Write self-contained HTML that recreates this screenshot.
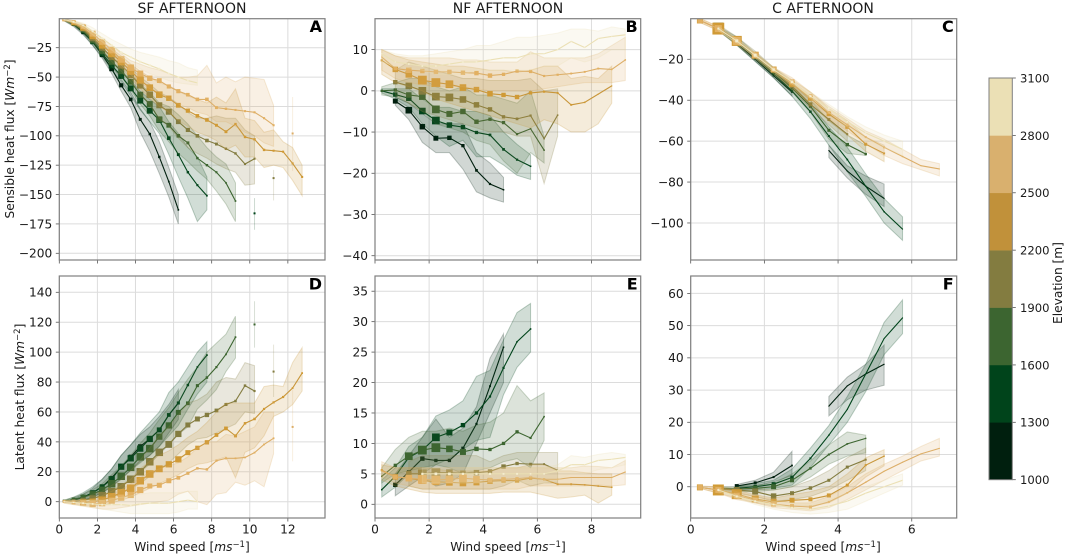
<!DOCTYPE html>
<html lang="en">
<head>
<meta charset="utf-8">
<title>Surface heat fluxes vs wind speed</title>
<style>
html,body{margin:0;padding:0;background:#fff;}
svg{display:block;font-family:"DejaVu Sans","Liberation Sans",sans-serif;fill:#1a1a1a;}
</style>
</head>
<body>
<svg id="chart" width="1065" height="555" viewBox="0 0 1065 555" xmlns="http://www.w3.org/2000/svg">
<text x="192" y="13" font-size="14" text-anchor="middle">SF AFTERNOON</text>
<text x="508" y="13" font-size="14" text-anchor="middle">NF AFTERNOON</text>
<text x="823" y="13" font-size="14" text-anchor="middle">C AFTERNOON</text>
<text transform="translate(14 139) rotate(-90)" font-size="12.2" text-anchor="middle">Sensible heat flux [<tspan font-style="italic">Wm</tspan><tspan dy="-4" font-size="8.5">−2</tspan><tspan dy="4">]</tspan></text>
<text transform="translate(24 397) rotate(-90)" font-size="12.2" text-anchor="middle">Latent heat flux [<tspan font-style="italic">Wm</tspan><tspan dy="-4" font-size="8.5">−2</tspan><tspan dy="4">]</tspan></text>
<text x="192" y="551" font-size="12.2" text-anchor="middle">Wind speed [<tspan font-style="italic">ms</tspan><tspan dy="-4" font-size="8.5">−1</tspan><tspan dy="4">]</tspan></text>
<text x="508" y="551" font-size="12.2" text-anchor="middle">Wind speed [<tspan font-style="italic">ms</tspan><tspan dy="-4" font-size="8.5">−1</tspan><tspan dy="4">]</tspan></text>
<text x="823" y="551" font-size="12.2" text-anchor="middle">Wind speed [<tspan font-style="italic">ms</tspan><tspan dy="-4" font-size="8.5">−1</tspan><tspan dy="4">]</tspan></text>
<text transform="translate(1062 283) rotate(-90)" font-size="12.2" text-anchor="middle">Elevation [m]</text>
</svg>
<script>
const _ = null;
const windBins = [0.25,0.75,1.25,1.75,2.25,2.75,3.25,3.75,4.25,4.75,5.25,5.75,6.25,6.75,7.25,7.75,8.25,8.75,9.25,9.75,10.25,10.75,11.25,11.75,12.25,12.75];
const elevationTicks = [1000,1300,1600,1900,2200,2500,2800,3100];

/* Panel A: SF sensible */
const aMean0=[-1,-5,-12,-20,-31,-43,-57,-69,-86,-98.5,-118,-139,-163];
const aLow0=[-2,-7,-14,-23,-34,-47,-62,-76,-97,-113,-132,-152,-175];
const aHigh0=[-0.5,-3,-10,-17,-28,-39,-52,-63,-77,-88,-105,-127,-150];
const aCount0=[1,9,9,12,16,16,12,9,6,4,4,2,2];
const aMean1=[-1,-5,-11,-20,-30,-40,-49,-59.6,-70,-78.6,-86.5,-102,-116,-131,-142,-151];
const aLow1=[-2,-6,-13,-23,-33,-44,-54,-66,-78,-88,-98,-116,-135,-153,-173,-163];
const aHigh1=[-0.5,-4,-9,-17,-27,-36,-44,-53,-62,-69,-75,-88,-98,-110,-118,-135];
const aCount1=[4,9,12,16,20,25,25,25,25,25,25,9,6,4,3,2];
const aMean2=[-1,-4.5,-10,-19,-28,-37,-45,-54,-65,-73,-86,-91,-100,-106,-119,-125,-131,-140,-155.5];
const aLow2=[-2,-6,-12,-21,-31,-41,-50,-61,-73,-83,-96,-105,-115,-122,-130,-137,-147,-158,-173];
const aHigh2=[-0.5,-3,-8,-16,-25,-33,-40,-47,-56,-63,-72,-75,-82,-90,-100,-110,-118,-124,-140];
const aCount2=[4,9,16,20,25,25,25,25,25,25,25,16,9,6,4,4,3,2,2];
const aMean3=[-1,-4,-9,-17,-25,-33,-40,-48,-57,-65,-74,-79.5,-88,-95,-100,-104,-107,-111,-115,-124,-119.5];
const aLow3=[-2,-5,-11,-19,-28,-37,-45,-54,-64,-74,-85,-92,-102,-110,-115,-119,-124,-128,-131,-142,-141];
const aHigh3=[-0.5,-3,-7,-15,-22,-29,-35,-42,-50,-56,-63,-67,-73,-80,-85,-85,-83,-85,-85,-95,-100];
const aCount3=[4,9,16,25,25,25,30,30,30,30,25,25,16,12,9,9,6,4,4,3,3];
const aMean4=[-1,-4,-8,-15,-23,-30,-37,-45,-52.5,-59,-65,-68,-74,-78.6,-83,-86.5,-91,-96.5,-90,-101,-103,-112,-112.7,-113.5,-123.5,-135];
const aLow4=[-2,-5,-10,-17,-26,-34,-42,-51,-60,-68,-75,-80,-87,-92,-97,-100,-104,-112,-108,-118,-118,-127,-125,-127,-138,-151];
const aHigh4=[0,-3,-6,-13,-20,-26,-32,-39,-45,-50,-55,-57,-62,-66,-69,-72,-67,-72,-60,-85,-87,-97,-95,-105,-110,-125];
const aCount4=[9,16,25,30,30,36,36,36,36,30,30,20,16,12,9,9,6,6,4,4,4,4,3,3,3,3];
const aMean5=[-1,-3,-7,-13,-20,-27,-35,-42,-47,-51,-53,-58,-62,-65,-69,-69,-76,-77,-78,-79,-80,-85,-91];
const aLow5=[-2,-4,-9,-15,-23,-31,-40,-48,-55,-60,-63,-69,-73,-76,-80,-82,-88,-88,-92,-97,-100,-106,-109];
const aHigh5=[0,-2,-5,-11,-17,-23,-30,-36,-39,-42,-44,-47,-50,-50,-49,-40,-55,-50,-54,-50,-51,-52,-74];
const aCount5=[6,9,16,25,25,30,30,30,25,20,16,12,12,9,9,9,6,4,3,3,3,3,3];
const aMean6=[-1,-3,-6,-11,-17,-23,-29,-33,-37,-40,-43,-47,-50,-53,-55];
const aLow6=[-2,-4,-8,-14,-20,-27,-33,-38,-43,-47,-50,-53,-55,-56,-57];
const aHigh6=[0,-2,-4,-8,-13,-18,-22,-26,-29,-31,-33,-36,-38,-42,-44];
const aCount6=[1,2,2,3,3,3,3,3,3,3,3,2,2,2,1];
const aOutlierX=[10.25,11.25,12.25];
const aOutlierY=[-166,-136,-98];
const aOutlierLow=[-180,-155,-130];
const aOutlierHigh=[-153,-129,-67];
const aOutlierSeries=[1,3,5];
const aYTicks=[-25,-50,-75,-100,-125,-150,-175,-200];
const aXTicks=[0,2,4,6,8,10,12];

/* Panel B: NF sensible */
const bMean0=[_,-2.5,-4.7,-8.7,-11.5,-11.4,-13.3,-19.3,-22.6,-24];
const bLow0=[_,-3.5,-7,-12.5,-15,-15,-19,-24.5,-26,-27];
const bHigh0=[_,-1.5,-3,-5.5,-8,-8,-8,-15,-17.5,-21];
const bCount0=[_,20,36,25,20,16,9,6,4,2];
const bMean1=[0,-0.9,-1.8,-4.9,-7.2,-8.3,-8.8,-10.1,-10.7,-14.2,-16.7,-18.3];
const bLow1=[-0.5,-2,-4,-8,-11,-13.5,-12,-16,-16,-18,-20.5,-21.5];
const bHigh1=[0.5,0.5,0.5,-2,-4,-4,-5,-5,-6,-10,-13,-15.5];
const bCount1=[4,16,25,36,49,25,16,9,6,6,4,2];
const bMean2=[0,0.2,-1,-1.4,-4.5,-5.6,-5,-7.5,-6.9,-7.7,-10.5,-9.2,-14.4];
const bLow2=[-1,-1.5,-3,-5,-8,-9,-10,-12,-13,-17,-20,-15,-17.5];
const bHigh2=[1,2,3,3,1,0,1,-1,-1,-2,-3,0,-11];
const bCount2=[4,9,25,36,49,30,25,16,9,9,4,2,2];
const bMean3=[_,2.1,1.2,0,-1.4,-1.6,-2.1,-3.4,-4.5,-6.3,-6.8,-6,-11.6,-5.9];
const bLow3=[_,-1,-3,-5,-6,-7,-8,-9,-10,-10,-11,-11,-22.5,-11];
const bHigh3=[_,5,7,6,5,4,3,3,2.5,2.5,2.5,3,0,0.5];
const bCount3=[_,16,36,49,49,49,36,25,16,9,6,4,2,2];
const bMean4=[7.4,5.2,4,2.6,2,1.6,0.8,0.3,-0.7,-1,-1.5,-0.5,-0.2,-0.5,-3.4,-2.8,-0.8,1.2];
const bLow4=[4,2,1,0,-2,-3,-4,-5,-6,-7,-8,-9,-7,-8,-10,-10,-8,-3];
const bHigh4=[10,8.5,7.5,7,6.5,6,6,5.5,5,5,4.5,5,6,6,3,3.5,3,6];
const bCount4=[4,25,36,64,64,49,36,25,25,16,16,9,4,3,3,2,1,1];
const bMean5=[8.2,5.4,5,4.8,4.6,4.6,4.4,4.3,3.7,4,4.8,4.7,3.6,3.9,4.2,4.6,5.4,5.2,7.5];
const bLow5=[5,3,2,1.5,1,1,1,0.5,0,0,0,0,0.5,1,1.5,2,2,2,2.5];
const bHigh5=[10,8.5,8,8,8,8,7.5,7.5,7,7,7,9.5,8,8,8,8,9,11,13];
const bCount5=[1,9,25,16,16,16,16,16,16,9,9,9,4,4,3,3,3,2,2];
const bMean6=[9,7,6.5,6,6,6.5,7,7,7.5,8,8,9,9,10,12,10.5,12.7,13.2,13.6];
const bLow6=[7,6,5.5,5,4,4,4,5,5,5,5,5,6,6,8,7,8,10,10];
const bHigh6=[10,9,8.5,8.5,9,9.5,10,11,11,12,13,13,13.5,14,15,15,14.5,15.5,15];
const bCount6=[1,1,2,2,2,2,2,2,2,2,1,1,1,1,1,1,1,1,1];
const bYTicks=[10,0,-10,-20,-30,-40];
const bXTicks=[0,2,4,6,8];

/* Panel C: C sensible */
const cMean0=[_,_,-12,-20,-28,-36,_,-64.6,-74.6,-82,-88];
const cLow0=[_,_,-13,-21,-29,-38,_,-68,-78,-86,-92];
const cHigh0=[_,_,-11,-19,-27,-34,_,-62,-72,-77,-81];
const cCount0=[_,_,2,2,3,3,_,1,1,1,1];
const cMean1=[_,-5,-11.5,-19,-27,-35.5,-45.6,-57.5,-69,-82,-94.5,-103];
const cLow1=[_,-6,-13,-21,-29,-38,-49,-62,-75,-87,-100,-108.5];
const cHigh1=[_,-4,-10,-18,-25,-33,-42,-53,-63,-76,-88,-97];
const cCount1=[_,9,9,9,9,6,6,4,3,2,2,1];
const cMean2=[_,-5,-11,-18.5,-26,-34,-43,-54.7,-61.7,-66.3];
const cLow2=[_,-6,-13,-20,-28,-36,-46,-59,-66,-67];
const cHigh2=[_,-4,-9,-17,-24,-32,-40,-50,-57,-62];
const cCount2=[_,16,16,16,9,9,9,9,12,6];
const cMean3=[_,-4.5,-11,-18,-25.5,-33,-42,-49.4,-56.6];
const cLow3=[_,-6,-13,-20,-27,-35,-44,-52,-60];
const cHigh3=[_,-3,-9,-16,-24,-31,-40,-47,-53];
const cCount3=[_,100,80,25,16,12,16,9,4];
const cMean4=[-1,-5,-11,-18,-25,-32,-39,-46.7,-53,-61.5,-66];
const cLow4=[-2,-6,-12,-19,-27,-34,-42,-50,-57,-65,-70];
const cHigh4=[0,-4,-10,-17,-24,-30,-36,-44,-50,-58,-62];
const cCount4=[36,140,100,49,36,36,25,20,16,9,4];
const cMean5=[-1,-5,-11,-18,-25,-31,-38,-46,-52,-58,-63,-67.5,-72,-73.6];
const cLow5=[-2,-6,-12,-19,-26,-33,-40,-49,-55,-61,-67,-71,-74,-77];
const cHigh5=[0,-4,-10,-17,-24,-29,-36,-43,-49,-55,-59,-64,-69,-71];
const cCount5=[25,49,64,36,25,25,16,9,6,4,4,2,1,1];
const cMean6=[_,-5,-11,-18,-25,-31,-38,-44,-50.5,-56,-60,-64];
const cLow6=[_,-6,-12,-19,-26,-32,-39,-46,-53,-59,-63,-67];
const cHigh6=[_,-4,-10,-17,-24,-30,-36,-42,-48,-53,-57,-60];
const cCount6=[_,4,9,9,6,6,4,3,2,2,1,1];
const cYTicks=[-20,-40,-60,-80,-100];
const cXTicks=[0,2,4,6];

/* Panel D: SF latent */
const dMean0=[_,1,3,6,10,16,23,30,37,42,48,58,66];
const dLow0=[_,0,1,3,6,10,15,21,27,31,37,46,55];
const dHigh0=[_,2,5,9,15,22,31,38,45,50,57,65,75];
const dCount0=[_,6,9,9,9,9,12,12,12,9,6,4,3];
const dMean1=[0.5,1.5,3,6,10,15,23.4,29,35.5,42,48,58,66,78,90,98];
const dLow1=[0,0.5,1,3,6,10,16,21,26,31,37,44,51,62,72,80];
const dHigh1=[1,3,6,10,15,22,31,38,46,53,60,73,80,90,100,107];
const dCount1=[4,9,16,16,16,25,25,25,25,25,16,9,6,4,2,2];
const dMean2=[0.5,1.5,3,5,8,12,17,23,30,35.5,43.5,51,59.7,65.8,77.6,83,90,98.5,110];
const dLow2=[0,0.5,1,2,4,7,11,15,20,25,32,38,45,50,62,68,75,87,96];
const dHigh2=[1,3,5,8,12,18,24,31,39,46,55,63,73,82,90,100,106,112,124];
const dCount2=[4,9,16,25,25,36,36,36,36,36,25,25,16,9,6,4,3,2,2];
const dMean3=[0.2,0.4,1,2.2,4,6.7,10,15,20,26.7,33,38.3,45.3,51.3,55.3,58,61,65,67.3,77.6,74];
const dLow3=[-0.5,-0.5,-0.5,0,1,3,5,9,12,17,22,26,32,38,42,43,46,49,52,60,59];
const dHigh3=[1,1,2,5,7,11,15,21,28,36,44,50,58,66,68,72,80,83,82,93,91];
const dCount3=[4,9,16,25,36,36,36,36,36,36,36,30,25,16,16,12,9,6,4,4,3];
const dMean4=[0.3,-0.5,-0.5,0,1,3.3,6,9,14,18.5,22,25,28.3,32.8,36,39.7,44.6,49,44,52.4,55.3,62,66.4,70,76,86];
const dLow4=[-0.5,-1.5,-2.5,-3,-2,-1,1,3,6,9,12,15,18,22,25,26,28,30,16,33,36,44,57,60,65,74];
const dHigh4=[1,0.5,1,2,4,7,11,15,22,27,31,34,38,43,47,53,60,66,66,66,66,77,78,77,93,103];
const dCount4=[4,9,25,25,36,36,36,36,36,36,30,25,25,16,12,12,9,9,6,4,4,3,3,3,2,2];
const dMean5=[0,-0.5,-1,-1.5,-1,0.7,2.7,4.5,7.8,10.5,11,14,16,19,22.3,21.6,27.4,29,29,29.6,32.8,38.3,42.4];
const dLow5=[-1,-2,-3,-4,-5,-5,-4,-3,-2,-1,0,1,5,7,0,-2,5,6,13,11,14,10,32];
const dHigh5=[1,1,1,1,2,5,8,12,16,20,22,24,26,30,36,40,40,45,44,47,50,60,60];
const dCount5=[4,9,16,25,25,25,25,25,25,16,16,16,9,6,4,4,3,3,2,2,2,2,2];
const dMean6=[0,-0.5,-1,-1.5,-2,-2,-2,-2.5,-1.5,-1,-1,-1,0,1,0];
const dLow6=[-1,-2,-3,-4,-5,-6,-7,-8,-8,-8,-8,-8,-7,-5,-5];
const dHigh6=[1,1,1,1,1,2,3,4,5,6,6,6,6,7,7];
const dCount6=[1,1,2,2,2,2,2,2,2,2,2,1,1,1,1];
const dOutlierX=[10.25,11.25,12.25];
const dOutlierY=[118.5,87,50];
const dOutlierLow=[103,70,27];
const dOutlierHigh=[134,105,75];
const dOutlierSeries=[2,3,5];
const dYTicks=[0,20,40,60,80,100,120,140];
const dXTicks=[0,2,4,6,8,10,12];

/* Panel E: NF latent */
const eMean0=[_,3.2,5.3,7.5,7.2,7.2,9.2,13.2,19.4,25.8];
const eLow0=[_,1.4,3,4.5,3,3.5,5,10,15,20];
const eHigh0=[_,5,8,11,14,11,12.5,16,24,28];
const eCount0=[_,16,12,16,9,9,9,4,3,2];
const eMean1=[2.4,4.6,7.7,8.9,11,11.8,13,15,17.7,22.4,26.7,28.8];
const eLow1=[1.2,2.8,5,5,6.5,7.5,9,10.5,11,18,22.5,25];
const eHigh1=[4,6,9.5,11,14.5,15.5,17,21,22,27,31.5,33];
const eCount1=[2,6,16,25,49,30,16,9,4,4,2,2];
const eMean2=[4.6,6.4,7.9,8.9,9.3,9.1,8.6,9.1,9,10,11.9,10.9,14.4];
const eLow2=[3.5,5,5.5,6,6.5,6,5,5.5,6,7,7.5,6,10.5];
const eHigh2=[6,9,11,12,12,12.5,12,13,13.5,15,19.5,17,18.3];
const eCount2=[2,9,49,64,64,36,30,16,9,9,9,4,2];
const eMean3=[_,_,5,5,5.2,5.2,5.1,5.2,5.4,6.2,6.7,6.6,6.6,5.6];
const eLow3=[_,_,3,2.5,2.5,2.5,2.5,2.5,2.5,3,4,3,3.5,3.5];
const eHigh3=[_,_,7,8,8,8,8,8,7,8,8.5,8.5,8.5,8.5];
const eCount3=[_,_,25,64,64,36,25,25,16,16,9,6,3,1];
const eMean4=[5.6,4.5,4.3,3.9,3.7,3.6,3.5,3.6,3.8,3.9,3.9,4.3,4.1,3.3,3.3,3.2,3,2.8];
const eLow4=[4,3,2.5,2,1.8,1.8,1.8,1.8,1.8,2,2,2,1.5,1,1.2,1.5,0.2,1.5];
const eHigh4=[6.5,6,6,6,5.8,5.5,5.5,5.5,5.5,6,6,6.5,6.5,5.5,5.5,5.2,5,5];
const eCount4=[4,25,30,36,36,36,36,30,25,16,16,9,4,3,3,2,2,2];
const eMean5=[5.5,4.5,4.3,4.1,4,4.1,4.3,4.1,4,4.1,4.2,4.4,4.1,4.1,4.4,4.4,4.4,4.4,5.3];
const eLow5=[4.5,3.5,3,2.5,2.5,2.5,2.5,2.5,2.5,2.5,2.5,3,3,3,3,3,3.2,3,3.2];
const eHigh5=[7,6,6,6,6,6,6,6,6,6,6,6,6,6,6,6.3,6.2,6,7.2];
const eCount5=[1,16,36,64,64,49,49,36,16,16,9,4,3,2,1,1,1,1,1];
const eMean6=[_,_,_,5,5,5,5,5,5,5,5,5,5,5.5,6.5,6.5,7.2,7.4,7.7];
const eLow6=[_,_,_,3.5,3.5,3.5,3.5,3.5,3.5,3.5,3.5,3.5,3.5,4,5,5,5.7,6,6.5];
const eHigh6=[_,_,_,6,6,6,6,6,6,6,6,6,6,6.5,8,7.7,8.2,8.5,8.2];
const eCount6=[_,_,_,4,6,6,4,4,4,3,3,2,2,1,1,1,1,1,1];
const eYTicks=[0,5,10,15,20,25,30,35];
const eXTicks=[0,2,4,6,8];

/* Panel F: C latent */
const fMean0=[_,_,0.2,1.2,3,6.6,_,25,31.3,35,38];
const fLow0=[_,_,-0.3,0.2,1.5,3.5,_,22,27,30,31.5];
const fHigh0=[_,_,0.7,2,4.5,11,_,28,34,38,44];
const fCount0=[_,_,16,9,4,3,_,1,1,1,1];
const fMean1=[_,_,-0.5,0,0.8,2.9,8.8,16,24,35,46,52.4];
const fLow1=[_,_,-1,-1,-0.5,0.5,6,13,20,29.5,41,47.5];
const fHigh1=[_,_,0,1,2,5.5,12,19,28,38,51,58];
const fCount1=[_,_,9,12,16,12,4,2,1,1,1,1];
const fMean2=[_,-0.5,-0.7,-0.5,0,2,5.7,10,13.3,15];
const fLow2=[_,-1,-1.5,-1.5,-1,0,3,7,9.5,10.5];
const fHigh2=[_,0,0,0.5,1,4,8,13,17,16];
const fCount2=[_,4,16,25,25,16,6,4,3,2];
const fMean3=[_,-0.7,-1,-1.5,-2.9,-2,-0.4,2,6.1,8.4];
const fLow3=[_,-1,-2,-3,-4.5,-4,-3,-1,2,5];
const fHigh3=[_,0,-0.5,-0.5,-1,0,2,5,9,12];
const fCount3=[_,36,36,36,30,16,12,9,9,4];
const fMean4=[-0.2,-1,-2.3,-3.8,-4.7,-4.2,-3.9,-2.7,0.5,6.7,9.5];
const fLow4=[-0.5,-2,-3.5,-5,-6,-6,-6,-5,-2,3,6.5];
const fHigh4=[0.2,0,-1,-2.5,-3.5,-2.5,-1.5,0,4,9,11.5];
const fCount4=[36,120,100,49,36,25,16,16,9,4,2];
const fMean5=[-0.2,-1,-2.8,-4.1,-5.4,-6,-6.3,-4.7,-1.9,1.4,4.8,7.6,10.2,11.9];
const fLow5=[-0.5,-2,-4,-5,-6.5,-7,-7.5,-6.5,-4,-1,2,5,8,9.5];
const fHigh5=[0.2,0,-1.5,-3,-4,-5,-5,-3,0,4,7,9.5,12.5,15];
const fCount5=[25,36,36,25,25,16,9,4,3,2,1,1,1,1];
const fMean6=[_,-1,-3,-4.5,-5.5,-6.5,-7,-6,-4.5,-2,0,2];
const fLow6=[_,-1.5,-3.5,-5.5,-7,-8,-8.5,-8,-7,-4.5,-2,0.5];
const fHigh6=[_,-0.5,-2.5,-3.5,-4.5,-5,-5.5,-4,-2,0,2,4];
const fCount6=[_,4,4,4,3,3,2,2,1,1,1,1];
const fYTicks=[0,10,20,30,40,50,60];
const fXTicks=[0,2,4,6];

const palette=['#001f0e','#00441b','#3c6530','#837c40','#c8963a','#dcae68','#ebe0b5'];
const markerPalette=['#001f0e','#00441b','#3c6530','#837c40','#d09a35','#e2b062','#f4edcf'];

const panels=[
 {id:'a',letter:'A',mscale:1.2,box:[59.3,325,18.7,260],xd:[0,13.95],yd:[-0.32,-205.7],means:[aMean0,aMean1,aMean2,aMean3,aMean4,aMean5,aMean6],lows:[aLow0,aLow1,aLow2,aLow3,aLow4,aLow5,aLow6],highs:[aHigh0,aHigh1,aHigh2,aHigh3,aHigh4,aHigh5,aHigh6],counts:[aCount0,aCount1,aCount2,aCount3,aCount4,aCount5,aCount6],yt:aYTicks,xt:aXTicks,labels:false,ox:aOutlierX,oy:aOutlierY,ol:aOutlierLow,oh:aOutlierHigh,os:aOutlierSeries},
 {id:'b',letter:'B',mscale:1.1,box:[375,640.7,18.7,260],xd:[0,9.82],yd:[17.5,-41.04],means:[bMean0,bMean1,bMean2,bMean3,bMean4,bMean5,bMean6],lows:[bLow0,bLow1,bLow2,bLow3,bLow4,bLow5,bLow6],highs:[bHigh0,bHigh1,bHigh2,bHigh3,bHigh4,bHigh5,bHigh6],counts:[bCount0,bCount1,bCount2,bCount3,bCount4,bCount5,bCount6],yt:bYTicks,xt:bXTicks,labels:false},
 {id:'c',letter:'C',mscale:1,box:[690.7,956.7,18.7,260],xd:[0,7.22],yd:[-0.15,-118.1],means:[cMean0,cMean1,cMean2,cMean3,cMean4,cMean5,cMean6],lows:[cLow0,cLow1,cLow2,cLow3,cLow4,cLow5,cLow6],highs:[cHigh0,cHigh1,cHigh2,cHigh3,cHigh4,cHigh5,cHigh6],counts:[cCount0,cCount1,cCount2,cCount3,cCount4,cCount5,cCount6],yt:cYTicks,xt:cXTicks,labels:false},
 {id:'d',letter:'D',mscale:1.25,box:[59.3,325,276,518],xd:[0,13.95],yd:[150.9,-10.9],means:[dMean0,dMean1,dMean2,dMean3,dMean4,dMean5,dMean6],lows:[dLow0,dLow1,dLow2,dLow3,dLow4,dLow5,dLow6],highs:[dHigh0,dHigh1,dHigh2,dHigh3,dHigh4,dHigh5,dHigh6],counts:[dCount0,dCount1,dCount2,dCount3,dCount4,dCount5,dCount6],yt:dYTicks,xt:dXTicks,labels:true,ox:dOutlierX,oy:dOutlierY,ol:dOutlierLow,oh:dOutlierHigh,os:dOutlierSeries},
 {id:'e',letter:'E',mscale:1.1,box:[375,640.7,276,518],xd:[0,9.82],yd:[37.5,-2.25],means:[eMean0,eMean1,eMean2,eMean3,eMean4,eMean5,eMean6],lows:[eLow0,eLow1,eLow2,eLow3,eLow4,eLow5,eLow6],highs:[eHigh0,eHigh1,eHigh2,eHigh3,eHigh4,eHigh5,eHigh6],counts:[eCount0,eCount1,eCount2,eCount3,eCount4,eCount5,eCount6],yt:eYTicks,xt:eXTicks,labels:true},
 {id:'f',letter:'F',mscale:1,box:[690.7,956.7,276,518],xd:[0,7.22],yd:[65.4,-9.7],means:[fMean0,fMean1,fMean2,fMean3,fMean4,fMean5,fMean6],lows:[fLow0,fLow1,fLow2,fLow3,fLow4,fLow5,fLow6],highs:[fHigh0,fHigh1,fHigh2,fHigh3,fHigh4,fHigh5,fHigh6],counts:[fCount0,fCount1,fCount2,fCount3,fCount4,fCount5,fCount6],yt:fYTicks,xt:fXTicks,labels:true}
];

const NS='http://www.w3.org/2000/svg';
const svg=document.getElementById('chart');
function el(tag,parent){const e=document.createElementNS(NS,tag);parent.appendChild(e);return e;}
function set(e,o){for(const k in o)e.setAttribute(k,o[k]);return e;}
function scale(d,r){return v=>r[0]+(v-d[0])*(r[1]-r[0])/(d[1]-d[0]);}
function fmt(v){return String(v).replace('-','\u2212');}

function runsOf(a){const out=[];let cur=[];a.forEach((v,i)=>{if(v===null||v===undefined){if(cur.length)out.push(cur);cur=[];}else cur.push(i);});if(cur.length)out.push(cur);return out;}

panels.forEach(p=>{
 const [L,R,T,B]=p.box;
 const x=scale(p.xd,[L,R]);
 const y=scale(p.yd,[T,B]);
 const g=el('g',svg);
 
 
 const cp=el('clipPath',g);
 cp.setAttribute('id','clip-'+p.id);
 set(el('rect',cp),{x:L,y:T,width:R-L,height:B-T});
 p.xt.forEach(t=>{
  const gl=el('line',g);
  
  
  set(gl,{x1:x(t),x2:x(t),y1:T,y2:B,stroke:'#dcdcdc','stroke-width':1});
  const tk=el('line',g);
  
  
  set(tk,{x1:x(t),x2:x(t),y1:B,y2:B+3.5,stroke:'#555','stroke-width':.8});
  if(p.labels){
   const tl=el('text',g);
   
   
   set(tl,{x:x(t),y:B+15.3,'font-size':12.2,'text-anchor':'middle'});
   tl.textContent=fmt(t);
  }
 });
 p.yt.forEach(t=>{
  const gl=el('line',g);
  
  
  set(gl,{x1:L,x2:R,y1:y(t),y2:y(t),stroke:'#dcdcdc','stroke-width':1});
  const tk=el('line',g);
  
  
  set(tk,{x1:L-3.5,x2:L,y1:y(t),y2:y(t),stroke:'#555','stroke-width':.8});
  const tl=el('text',g);
  
  
  set(tl,{x:L-7,y:y(t)+4.4,'font-size':12.2,'text-anchor':'end'});
  tl.textContent=fmt(t);
 });
 const plot=el('g',g);
 
 
 plot.setAttribute('clip-path','url(#clip-'+p.id+')');
 p.means.forEach((mean,s)=>{
  const col=palette[s];
  const sg=el('g',plot);
  
  
  runsOf(mean).forEach(run=>{
   const up=run.map(i=>x(windBins[i]).toFixed(2)+','+y(p.highs[s][i]).toFixed(2));
   const lo=run.map(i=>x(windBins[i]).toFixed(2)+','+y(p.lows[s][i]).toFixed(2)).reverse();
   const band=el('polygon',sg);
   
   
   set(band,{points:up.concat(lo).join(' '),fill:col,'fill-opacity':.18,stroke:col,'stroke-opacity':.25,'stroke-width':1});
   const line=el('polyline',sg);
   
   
   set(line,{points:run.map(i=>x(windBins[i]).toFixed(2)+','+y(mean[i]).toFixed(2)).join(' '),fill:'none',stroke:col,'stroke-width':1.1});
   run.forEach(i=>{
    const side=Math.sqrt(p.counts[s][i])*p.mscale;
    const m=el('rect',sg);
    
    
    set(m,{x:x(windBins[i])-side/2,y:y(mean[i])-side/2,width:side,height:side,fill:markerPalette[s]});
   });
  });
 });
 if(p.ox){p.ox.forEach((v,i)=>{
  const col=palette[p.os[i]];
  const ln=el('line',plot);
  
  
  set(ln,{x1:x(v),x2:x(v),y1:y(p.ol[i]),y2:y(p.oh[i]),stroke:col,'stroke-opacity':.2,'stroke-width':1});
  const d=el('rect',plot);
  
  
  set(d,{x:x(v)-1,y:y(p.oy[i])-1,width:2,height:2,fill:col});
 });}
 const fr=el('rect',g);
 
 
 set(fr,{x:L,y:T,width:R-L,height:B-T,fill:'none',stroke:'#7f7f7f','stroke-width':1.2});
 const lt=el('text',g);
 
 
 set(lt,{x:R-3,y:T+13.5,'font-size':16,'font-weight':'bold','text-anchor':'end',fill:'#000'});
 lt.textContent=p.letter;
});

/* colorbar */
const cb=el('g',svg);


const cbY=scale([1000,3100],[479.7,78]);
const cbColors=['#001f0e','#00441b','#3c6530','#837c40','#c1913a','#d9b06e','#ebe0b5'];
elevationTicks.forEach((t,i)=>{
 if(i<cbColors.length){
  const r=el('rect',cb);
  
  
  set(r,{x:989,y:cbY(elevationTicks[i+1]),width:23.3,height:cbY(t)-cbY(elevationTicks[i+1])+.3,fill:cbColors[i]});
 }
 const tk=el('line',cb);
 
 
 set(tk,{x1:1012.3,x2:1015.8,y1:cbY(t),y2:cbY(t),stroke:'#555','stroke-width':.8});
 const tl=el('text',cb);
 
 
 set(tl,{x:1020,y:cbY(t)+4.4,'font-size':11.6});
 tl.textContent=String(t);
});
const cbf=el('rect',cb);


set(cbf,{x:989,y:78,width:23.3,height:401.7,fill:'none',stroke:'#7f7f7f','stroke-width':1});
</script>
</body>
</html>
